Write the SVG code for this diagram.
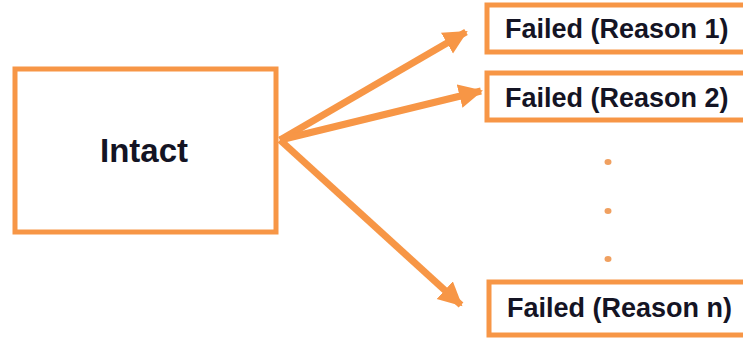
<svg xmlns="http://www.w3.org/2000/svg" width="743" height="338" viewBox="0 0 743 338">
<style>
.box{fill:#fff;stroke:#F79646;stroke-width:5}
.lbl{font-family:"Liberation Sans",Arial,sans-serif;font-weight:bold;fill:#141424}
.conn{stroke:#F79646;stroke-width:7;fill:none;marker-end:url(#ah)}
.dot{fill:#F0A060}
</style>
<defs>
<marker id="ah" markerUnits="userSpaceOnUse" markerWidth="26" markerHeight="26" refX="22" refY="12" orient="auto">
<path d="M0,0 L24,12 L0,24 Z" fill="#F79646"/>
</marker>
</defs>
<rect width="743" height="338" fill="#fff"/>
<g id="connectors">
<line class="conn" x1="280" y1="140" x2="466" y2="32"/>
<line class="conn" x1="280" y1="140" x2="481" y2="91"/>
<line class="conn" x1="280" y1="140" x2="461" y2="305"/>
</g>
<g id="intact">
<rect class="box" x="15" y="69" width="261" height="163"/>
<text class="lbl" x="144" y="162" font-size="33" text-anchor="middle">Intact</text>
</g>
<g id="failed1">
<rect class="box" x="487" y="5" width="270" height="47"/>
<text class="lbl" x="505" y="38" font-size="27">Failed (Reason 1)</text>
</g>
<g id="failed2">
<rect class="box" x="487" y="73" width="270" height="47"/>
<text class="lbl" x="505" y="107" font-size="27">Failed (Reason 2)</text>
</g>
<g id="failedn">
<rect class="box" x="489" y="282" width="270" height="53"/>
<text class="lbl" x="507" y="317" font-size="27">Failed (Reason n)</text>
</g>
<g id="dots">
<ellipse class="dot" cx="608" cy="162" rx="3.5" ry="3"/>
<ellipse class="dot" cx="608" cy="211" rx="3.5" ry="3"/>
<ellipse class="dot" cx="608" cy="259" rx="3.5" ry="3"/>
</g>
</svg>
